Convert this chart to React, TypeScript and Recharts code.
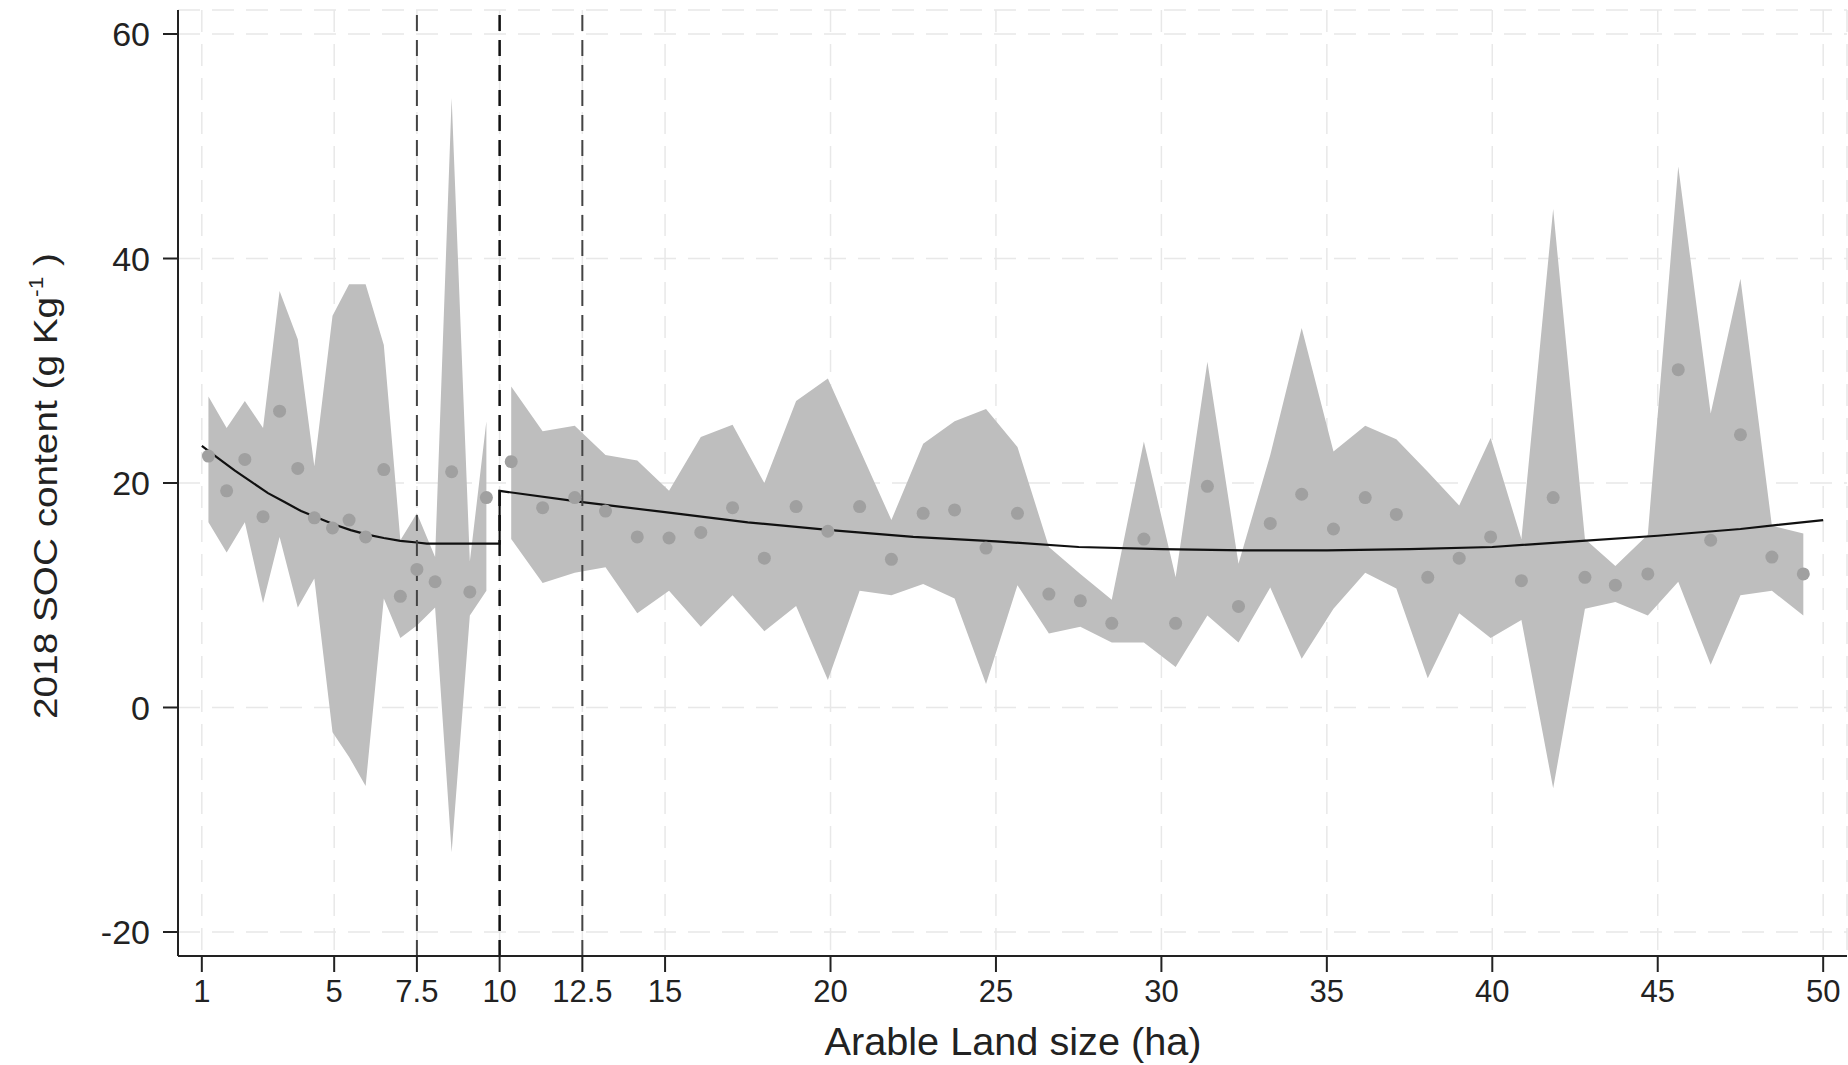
import { ComposedChart, Area, Line, Scatter, XAxis, YAxis, CartesianGrid, ReferenceLine } from 'recharts'

const FONT = '"Liberation Sans", Arial, Helvetica, sans-serif'

// bins below 10 ha
const leftX = [1.2, 1.75, 2.3, 2.85, 3.35, 3.9, 4.4, 4.95, 5.45, 5.95, 6.5, 7.0, 7.5, 8.05, 8.55, 9.1, 9.6]
const leftDot = [22.4, 19.3, 22.1, 17.0, 26.4, 21.3, 16.9, 16.0, 16.7, 15.2, 21.2, 9.9, 12.3, 11.2, 21.0, 10.3, 18.7]
const leftHigh = [27.7, 24.9, 27.3, 24.9, 37.1, 32.8, 21.5, 34.9, 37.7, 37.7, 32.3, 14.9, 17.3, 13.4, 54.3, 13.0, 25.5]
const leftLow = [16.5, 13.8, 16.5, 9.3, 15.2, 8.9, 11.5, -2.2, -4.4, -7.0, 9.7, 6.2, 7.3, 8.9, -12.9, 8.2, 10.4]

// bins above 10 ha
const rightX = [
  10.35, 11.3, 12.27, 13.2, 14.16, 15.12, 16.08, 17.04, 18.0, 18.96, 19.92, 20.88, 21.84, 22.8,
  23.75, 24.7, 25.65, 26.6, 27.55, 28.5, 29.47, 30.43, 31.39, 32.33, 33.29, 34.24, 35.2, 36.16,
  37.1, 38.05, 39.0, 39.95, 40.88, 41.84, 42.8, 43.72, 44.7, 45.62, 46.6, 47.5, 48.45, 49.4,
]
const rightDot = [
  21.9, 17.8, 18.7, 17.5, 15.2, 15.1, 15.6, 17.8, 13.3, 17.9, 15.7, 17.9, 13.2, 17.3,
  17.6, 14.2, 17.3, 10.1, 9.5, 7.5, 15.0, 7.5, 19.7, 9.0, 16.4, 19.0, 15.9, 18.7,
  17.2, 11.6, 13.3, 15.2, 11.3, 18.7, 11.6, 10.9, 11.9, 30.1, 14.9, 24.3, 13.4, 11.9,
]
const rightHigh = [
  28.6, 24.6, 25.1, 22.5, 22.0, 19.3, 24.1, 25.2, 20.0, 27.3, 29.3, 23.0, 16.7, 23.5,
  25.5, 26.6, 23.2, 14.3, 11.9, 9.6, 23.7, 11.6, 30.8, 12.8, 22.5, 33.8, 22.8, 25.1,
  23.9, 21.0, 18.0, 24.0, 15.0, 44.4, 15.0, 12.6, 15.4, 48.2, 26.2, 38.2, 16.2, 15.5,
]
const rightLow = [
  15.0, 11.1, 12.0, 12.5, 8.4, 10.4, 7.2, 10.0, 6.8, 9.05, 2.45, 10.4, 10.0, 11.0,
  9.7, 2.1, 10.9, 6.6, 7.2, 5.8, 5.8, 3.6, 8.2, 5.8, 10.7, 4.35, 8.8, 12.0,
  10.6, 2.6, 8.4, 6.2, 7.8, -7.2, 8.8, 9.4, 8.2, 11.2, 3.8, 10.0, 10.4, 8.2,
]

// fitted line, with the jump at 10 ha
const fitX = [1.0, 1.5, 2, 2.5, 3, 3.5, 4, 4.5, 5, 5.5, 6, 6.5, 7, 7.5, 7.8, 10, 10, 12.5, 15, 17.5, 20, 22.5, 25, 27.5, 30, 32.5, 35, 37.5, 40, 42.5, 45, 47.5, 50]
const fitY = [23.3, 22.2, 21.1, 20.1, 19.1, 18.3, 17.5, 16.9, 16.3, 15.8, 15.4, 15.1, 14.85, 14.7, 14.6, 14.6, 19.3, 18.3, 17.4, 16.5, 15.8, 15.2, 14.8, 14.3, 14.1, 14.0, 14.0, 14.1, 14.3, 14.8, 15.3, 15.9, 16.7]

const xTicks = [1, 5, 7.5, 10, 12.5, 15, 20, 25, 30, 35, 40, 45, 50]
const yTicks = [-20, 0, 20, 40, 60]

const leftBand = leftX.map((x, i) => ({ x, range: [leftLow[i], leftHigh[i]] }))
const rightBand = rightX.map((x, i) => ({ x, range: [rightLow[i], rightHigh[i]] }))
const dots = [...leftX, ...rightX].map((x, i) => ({ x, y: [...leftDot, ...rightDot][i] }))
const fit = fitX.map((x, i) => ({ x, y: fitY[i] }))

const axisStyle = { stroke: '#222', strokeWidth: 2 }

export default function App() {
  return (
    <div style={{ position: 'absolute', left: 0, top: 0, background: '#fff' }}>
      <ComposedChart width={1848} height={1065} margin={{ top: 10, right: 1, left: 0, bottom: 0 }}>
        <CartesianGrid stroke="#e8e8e8" strokeDasharray="22 12" strokeWidth={1.5} />
        <XAxis
          dataKey="x"
          type="number"
          domain={[0.28, 50.72]}
          ticks={xTicks}
          interval={0}
          allowDataOverflow
          height={109}
          tickSize={16}
          tickMargin={8}
          axisLine={axisStyle}
          tickLine={axisStyle}
          tick={{ fontSize: 31, fill: '#222', fontFamily: FONT }}
          label={{
            content: () => (
              <text x={1013} y={1055} textAnchor="middle" fontSize={38} fill="#222" fontFamily={FONT}
                textLength={377} lengthAdjust="spacingAndGlyphs">
                Arable Land size (ha)
              </text>
            ),
          }}
        />
        <YAxis
          type="number"
          domain={[-22.14, 62.14]}
          ticks={yTicks}
          interval={0}
          allowDataOverflow
          width={178}
          tickSize={15}
          tickMargin={13}
          axisLine={axisStyle}
          tickLine={axisStyle}
          tick={{ fontSize: 34, fill: '#222', fontFamily: FONT }}
          label={{
            content: () => (
              <text transform="translate(57,486) rotate(-90)" textAnchor="middle" fontSize={34} fill="#222"
                fontFamily={FONT} textLength={466} lengthAdjust="spacingAndGlyphs">
                2018 SOC content (g Kg<tspan dy={-14} fontSize={20}>-1</tspan><tspan dy={14}> )</tspan>
              </text>
            ),
          }}
        />
        <Area data={leftBand} dataKey="range" type="linear" stroke="none" fill="#bebebe" fillOpacity={1} isAnimationActive={false} />
        <Area data={rightBand} dataKey="range" type="linear" stroke="none" fill="#bebebe" fillOpacity={1} isAnimationActive={false} />
        <Scatter
          data={dots}
          dataKey="y"
          isAnimationActive={false}
          shape={(p: any) => <circle cx={p.cx} cy={p.cy} r={6.5} fill="#a0a0a0" />}
        />
        <Line data={fit} dataKey="y" type="linear" stroke="#111" strokeWidth={2.2} dot={false} activeDot={false} isAnimationActive={false} />
        <ReferenceLine x={7.5} stroke="#444" strokeWidth={2} strokeDasharray="16 9" />
        <ReferenceLine x={10} stroke="#111" strokeWidth={2.5} strokeDasharray="16 9" />
        <ReferenceLine x={12.5} stroke="#444" strokeWidth={2} strokeDasharray="16 9" />
      </ComposedChart>
    </div>
  )
}
